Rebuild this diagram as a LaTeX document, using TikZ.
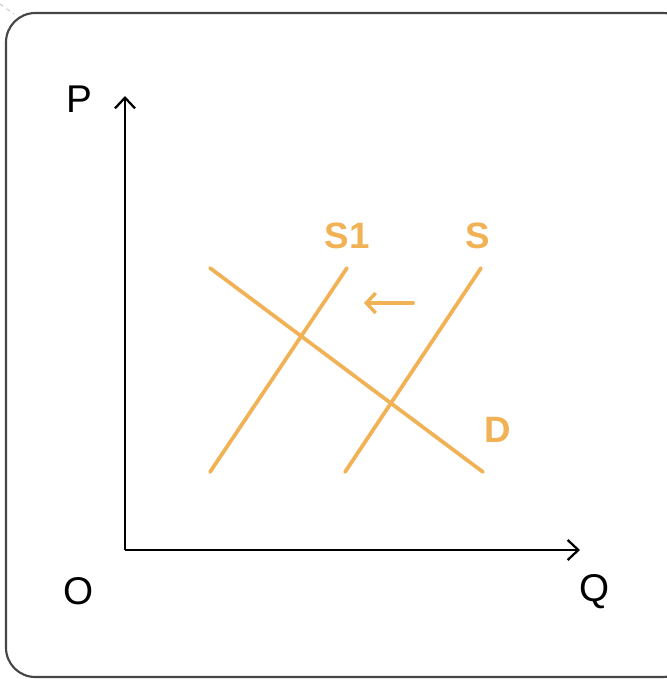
\documentclass[tikz,border=0pt]{standalone}
\usepackage{fontspec}
\setmainfont{Liberation Sans}
\usetikzlibrary{arrows.meta}
\definecolor{curve}{RGB}{241,178,86}
\definecolor{frame}{RGB}{70,70,70}
\begin{document}
\begin{tikzpicture}[x=0.75pt,y=-0.75pt,
  axis/.style={line width=1.9pt, -{Straight Barb[length=8pt,width=15pt,line width=1.7pt]}},
  curveline/.style={draw=curve, line width=2.8pt, line cap=round},
  axislabel/.style={font=\fontsize{29pt}{32pt}\selectfont, text=black, inner sep=0pt},
  curvelabel/.style={font=\fontsize{27.5pt}{30pt}\selectfont\bfseries, text=curve, inner sep=0pt}]
\useasboundingbox (0,0) rectangle (667,679);
\fill[white] (0,0) rectangle (667,679);
% frame
\draw[frame, line width=1.6pt, rounded corners=22pt] (6,13) rectangle (692,677);
\draw[gray!50, dashed, line width=0.6pt] (0,4) -- (14,14);
% axes
\coordinate (O) at (125,550);
\coordinate (Ytop) at (125,96);
\coordinate (Xend) at (580,550);
\draw[axis] (O) -- (Ytop);
\draw[axis] (O) -- (Xend);
\node[axislabel] (P) at (79,99) {P};
\node[axislabel] (Ol) at (79,591) {O};
\node[axislabel] (Q) at (595,592) {Q};
% curves
\coordinate (D1) at (210,268);
\coordinate (D2) at (483,472);
\coordinate (SA1) at (210,472);
\coordinate (SA2) at (347,268);
\coordinate (SB1) at (345,472);
\coordinate (SB2) at (481,268);
\draw[curveline] (D1) -- (D2);
\draw[curveline] (SA1) -- (SA2);
\draw[curveline] (SB1) -- (SB2);
\node[curvelabel] (S1l) at (347,236) {S1};
\node[curvelabel] (Sl) at (478,236) {S};
\node[curvelabel] (Dl) at (498,430) {D};
% shift arrow
\coordinate (A1) at (413,303);
\coordinate (A2) at (364,303);
\draw[curveline, -{Straight Barb[length=7pt,width=15pt,line width=2.6pt]}] (A1) -- (A2);
\end{tikzpicture}
\end{document}
